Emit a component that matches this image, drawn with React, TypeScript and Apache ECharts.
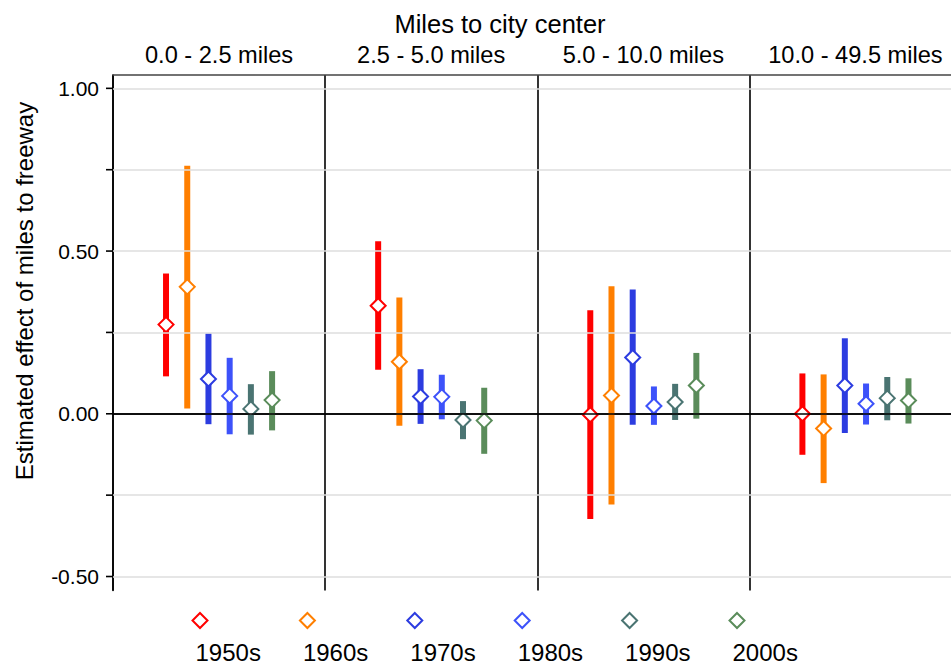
import React, { useEffect, useRef } from "react";
import * as echarts from "echarts";

// Distance bands (panels) and decades
const panels = ["0.0 - 2.5 miles", "2.5 - 5.0 miles", "5.0 - 10.0 miles", "10.0 - 49.5 miles"];
const decades = ["1950s", "1960s", "1970s", "1980s", "1990s", "2000s"];
const colors = ["#ff0000", "#ff7f00", "#2c3ce0", "#3d52fa", "#4a7472", "#5a8c5a"];

// Point estimates per decade, one value per distance band
const est1950s = [0.274, 0.332, -0.003, 0.0];
const est1960s = [0.39, 0.16, 0.056, -0.045];
const est1970s = [0.107, 0.053, 0.173, 0.087];
const est1980s = [0.055, 0.052, 0.024, 0.031];
const est1990s = [0.015, -0.019, 0.036, 0.048];
const est2000s = [0.042, -0.021, 0.087, 0.041];

// Lower confidence bounds
const lo1950s = [0.115, 0.135, -0.323, -0.126];
const lo1960s = [0.016, -0.037, -0.279, -0.213];
const lo1970s = [-0.032, -0.031, -0.034, -0.059];
const lo1980s = [-0.063, -0.017, -0.034, -0.033];
const lo1990s = [-0.064, -0.078, -0.019, -0.02];
const lo2000s = [-0.051, -0.123, -0.015, -0.03];

// Upper confidence bounds
const hi1950s = [0.431, 0.53, 0.318, 0.124];
const hi1960s = [0.762, 0.357, 0.392, 0.121];
const hi1970s = [0.247, 0.137, 0.382, 0.232];
const hi1980s = [0.172, 0.12, 0.084, 0.093];
const hi1990s = [0.091, 0.039, 0.092, 0.113];
const hi2000s = [0.131, 0.08, 0.187, 0.109];

// Y axis ticks and labels
const yTicks = [-0.5, -0.25, 0, 0.25, 0.5, 0.75, 1.0];
const yLabels = [-0.5, 0, 0.5, 1.0];
const yGrid = [-0.5, -0.25, 0.25, 0.5, 0.75, 1.0];

const estimates = [est1950s, est1960s, est1970s, est1980s, est1990s, est2000s];
const lowers = [lo1950s, lo1960s, lo1970s, lo1980s, lo1990s, lo2000s];
const uppers = [hi1950s, hi1960s, hi1970s, hi1980s, hi1990s, hi2000s];

const FONT = "'Liberation Sans', Arial, Helvetica, sans-serif";
const PANEL_W = 10; // x units per panel
const CANVAS_W = 962; // the last panel runs slightly past the visible edge
const VIEW_W = 951;
const VIEW_H = 664;

// x position of a decade within a panel
const xPos = (p: number, k: number) => p * PANEL_W + 2.5 + k;

export default function App() {
  const ref = useRef<HTMLDivElement>(null);

  useEffect(() => {
    document.body.style.margin = "0";
    document.body.style.overflow = "hidden";
    if (!ref.current) return;
    const chart = echarts.init(ref.current, undefined, { renderer: "svg" });

    const gridLeft = 113;
    const gridTop = 75;
    const gridRight = 0.5;
    const gridBottom = 73.5;
    const plotW = CANVAS_W - gridLeft - gridRight;
    const panelPx = plotW / panels.length;

    const series: any[] = [];

    // Reference lines: light grid and the zero line
    series.push({
      type: "line",
      data: [],
      silent: true,
      z: 1,
      markLine: {
        silent: true,
        symbol: "none",
        label: { show: false },
        animation: false,
        data: [
          ...yGrid.map((v) => ({ yAxis: v, lineStyle: { color: "#dedede", width: 1.6, type: "solid" } })),
          { yAxis: 0, lineStyle: { color: "#000", width: 1.6, type: "solid" } },
        ],
      },
    });

    // Outward tick marks on the y axis
    series.push({
      type: "custom",
      silent: true,
      clip: false,
      z: 2,
      data: yTicks.map((v) => [0, v]),
      renderItem: (params: any, api: any) => {
        const p = api.coord([api.value(0), api.value(1)]);
        return {
          type: "line",
          shape: { x1: p[0] - 7, y1: p[1], x2: p[0], y2: p[1] },
          style: { stroke: "#000", lineWidth: 1.6 },
        };
      },
    });

    decades.forEach((d, k) => {
      const ci = panels.map((_, p) => [xPos(p, k), lowers[k][p], uppers[k][p]]);
      const pts = panels.map((_, p) => [xPos(p, k), estimates[k][p]]);
      series.push({
        name: d + " CI",
        type: "custom",
        z: 3,
        data: ci,
        renderItem: (params: any, api: any) => {
          const a = api.coord([api.value(0), api.value(1)]);
          const b = api.coord([api.value(0), api.value(2)]);
          return {
            type: "rect",
            shape: { x: a[0] - 3, y: b[1], width: 6, height: a[1] - b[1] },
            style: { fill: colors[k] },
          };
        },
      });
      series.push({
        name: d,
        type: "scatter",
        z: 4,
        data: pts,
        symbol: "diamond",
        symbolSize: [15, 15],
        itemStyle: { color: "#ffffff", borderColor: colors[k], borderWidth: 2, opacity: 1 },
      });
    });

    // Legend: diamonds with labels underneath
    const legendX0 = 200;
    const legendStep = 107.4;
    const legendGraphics: any[] = [];
    decades.forEach((d, k) => {
      const cx = legendX0 + k * legendStep;
      const cy = 620.5;
      const h = 7.5;
      legendGraphics.push({
        type: "polygon",
        shape: { points: [[cx, cy - h], [cx + h, cy], [cx, cy + h], [cx - h, cy]] },
        style: { fill: "#fff", stroke: colors[k], lineWidth: 2 },
      });
      legendGraphics.push({
        type: "text",
        x: cx - 4.5,
        y: 652,
        style: { text: d, fill: "#000", font: `24px ${FONT}`, textAlign: "left", textVerticalAlign: "middle" },
      });
    });

    const panelLabels = panels.map((t, p) => ({
      type: "text",
      x: gridLeft + panelPx * (p + 0.5),
      y: 55,
      style: { text: t, fill: "#000", font: `23.6px ${FONT}`, textAlign: "center", textVerticalAlign: "middle" },
    }));

    chart.setOption({
      animation: false,
      backgroundColor: "#ffffff",
      grid: { left: gridLeft, top: gridTop, right: gridRight, bottom: gridBottom, containLabel: false },
      xAxis: [
        {
          type: "value",
          min: 0,
          max: panels.length * PANEL_W,
          interval: PANEL_W,
          position: "bottom",
          axisLine: { show: true, lineStyle: { color: "#000", width: 1.6 } },
          axisTick: { show: false },
          axisLabel: { show: false },
          splitLine: { show: true, lineStyle: { color: "#000", width: 1.6 } },
        },
        {
          type: "value",
          min: 0,
          max: panels.length * PANEL_W,
          position: "top",
          axisLine: { show: true, lineStyle: { color: "#444", width: 1.6 } },
          axisTick: { show: false },
          axisLabel: { show: false },
          splitLine: { show: false },
        },
      ],
      yAxis: {
        type: "value",
        min: -0.543,
        max: 1.041,
        axisLine: { show: true, lineStyle: { color: "#000", width: 1.6 } },
        axisTick: { show: false },
        axisLabel: {
          show: true,
          customValues: yLabels,
          formatter: (v: number) => v.toFixed(2),
          fontSize: 21,
          fontFamily: FONT,
          color: "#000",
          margin: 14,
        },
        splitLine: { show: false },
      },
      graphic: [
        {
          type: "text",
          x: 500,
          y: 23.5,
          style: {
            text: "Miles to city center",
            fill: "#000",
            font: `25.5px ${FONT}`,
            textAlign: "center",
            textVerticalAlign: "middle",
          },
        },
        ...panelLabels,
        {
          type: "text",
          x: 24,
          y: 291,
          rotation: Math.PI / 2,
          style: {
            text: "Estimated effect of miles to freeway",
            fill: "#000",
            font: `24px ${FONT}`,
            textAlign: "center",
            textVerticalAlign: "middle",
          },
        },
        ...legendGraphics,
      ],
      series,
    });

    return () => chart.dispose();
  }, []);

  return (
    <div style={{ width: VIEW_W, height: VIEW_H, overflow: "hidden" }}>
      <div ref={ref} style={{ width: CANVAS_W, height: VIEW_H }} />
    </div>
  );
}
